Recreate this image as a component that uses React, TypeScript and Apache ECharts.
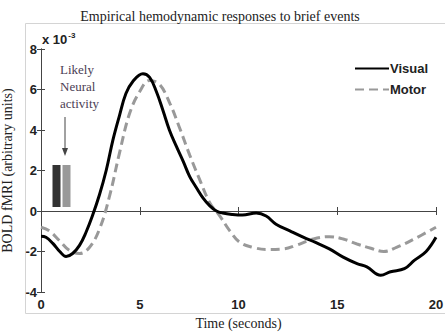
import React, { useEffect, useRef } from "react";
import * as echarts from "echarts";

// Values in units of 10^-3
const visualTime = [0, 0.25, 0.6, 0.95, 1.27, 1.6, 1.95, 2.28, 2.6, 2.96, 3.3, 3.64, 3.97, 4.3, 4.65, 5.16, 5.5, 5.84, 6.18, 6.5, 6.85, 7.2, 7.53, 7.87, 8.2, 8.55, 8.88, 9.2, 9.7, 10.2, 10.9, 11.4, 11.9, 12.6, 13.3, 13.9, 14.6, 15.3, 16.0, 16.5, 17.2, 17.7, 18.4, 18.9, 19.5, 20];
const visualValues = [-1.25, -1.3, -1.6, -2.0, -2.25, -2.1, -1.7, -1.05, -0.25, 0.8, 2.0, 3.5, 4.7, 5.8, 6.4, 6.78, 6.6, 5.9, 4.95, 4.0, 3.2, 2.45, 1.7, 1.15, 0.65, 0.25, 0.0, -0.1, -0.17, -0.2, -0.1, -0.25, -0.65, -0.98, -1.3, -1.55, -1.87, -2.28, -2.6, -2.76, -3.17, -3.0, -2.85, -2.44, -2.0, -1.3];

const motorTime = [0, 0.42, 0.93, 1.44, 1.95, 2.45, 2.96, 3.47, 3.97, 4.48, 5.0, 5.5, 6.0, 6.5, 7.0, 7.53, 8.04, 8.55, 9.05, 9.56, 10.07, 10.75, 11.4, 12.3, 12.9, 13.8, 14.6, 15.3, 16.0, 16.7, 17.35, 18.0, 18.9, 20];
const motorValues = [-0.8, -0.98, -1.46, -1.95, -2.1, -1.8, -0.9, 0.73, 2.85, 4.8, 5.9, 6.45, 6.25, 5.37, 4.15, 2.76, 1.54, 0.4, -0.24, -0.98, -1.55, -1.8, -1.9, -1.87, -1.7, -1.38, -1.27, -1.38, -1.63, -1.84, -2.0, -1.8, -1.38, -0.8];

const seriesNames = ["Visual", "Motor"];
const xTicks = [0, 5, 10, 15, 20];
const yTicks = [-4, -2, 0, 2, 4, 6, 8];
const annotationLines = ["Likely", "Neural", "activity"];

const narrow = "'Liberation Sans Narrow', 'Arial Narrow', 'Liberation Sans', sans-serif";
const serif = "'Liberation Serif', 'Times New Roman', serif";

export default function App() {
  const ref = useRef<HTMLDivElement>(null);
  useEffect(() => {
    if (!ref.current) return;
    const chart = echarts.init(ref.current, undefined, { renderer: "svg" });
    const axisLine = { show: true, lineStyle: { color: "#444", width: 1 } };
    const tick = { show: true, inside: true, length: 4, lineStyle: { color: "#444" } };
    const labelStyle = { fontFamily: narrow, fontWeight: "bold" as const, fontSize: 13, color: "#222" };
    chart.setOption({
      animation: false,
      backgroundColor: "#fff",
      title: {
        text: "Empirical hemodynamic responses to brief events",
        left: 215,
        top: 4,
        textAlign: "center",
        textStyle: { fontFamily: serif, fontWeight: "normal", fontSize: 14, color: "#222" },
      },
      legend: {
        left: 349,
        top: 57,
        orient: "vertical",
        itemWidth: 34,
        itemHeight: 10,
        itemGap: 8,
        data: seriesNames,
        itemStyle: { opacity: 0 },
        textStyle: { fontFamily: narrow, fontWeight: "bold", fontSize: 13, color: "#222", padding: [0, 0, 0, -4] },
      },
      grid: { left: 41, right: 9, top: 49, bottom: 41, containLabel: false, outerBoundsMode: "none" },
      xAxis: [
        {
          type: "value",
          min: 0,
          max: 20,
          interval: 5,
          name: "Time (seconds)",
          nameLocation: "middle",
          nameGap: 24,
          nameTextStyle: { fontFamily: serif, fontSize: 14, color: "#222" },
          axisLine,
          axisTick: tick,
          splitLine: { show: false },
          axisLabel: { ...labelStyle, margin: 6, customValues: xTicks },
        },
        {
          type: "value",
          position: "top",
          min: 0,
          max: 20,
          interval: 5,
          axisLine,
          axisTick: tick,
          splitLine: { show: false },
          axisLabel: { show: false },
        },
      ],
      yAxis: [
        {
          type: "value",
          min: -4,
          max: 8,
          interval: 2,
          name: "BOLD fMRI (arbitrary units)",
          nameLocation: "middle",
          nameGap: 26,
          nameTextStyle: { fontFamily: serif, fontSize: 14, color: "#222" },
          axisLine,
          axisTick: tick,
          splitLine: { show: false },
          axisLabel: { ...labelStyle, margin: 4, customValues: yTicks },
        },
        {
          type: "value",
          position: "right",
          min: -4,
          max: 8,
          interval: 2,
          axisLine,
          axisTick: tick,
          splitLine: { show: false },
          axisLabel: { show: false },
        },
      ],
      graphic: [
        {
          type: "rect",
          shape: { x: 25.5, y: 23.5, width: 425, height: 290 },
          style: { fill: "none", stroke: "#d4d4d4", lineWidth: 1 },
          silent: true,
          z: -1,
        },
        {
          type: "text",
          x: 42,
          y: 31,
          style: {
            text: "{a|x 10}{b|-3}",
            rich: {
              a: { fontFamily: narrow, fontWeight: "bold", fontSize: 13, fill: "#222" },
              b: { fontFamily: narrow, fontWeight: "bold", fontSize: 8, fill: "#222", verticalAlign: "top", padding: [0, 0, 8, 1] },
            },
          },
        },
        {
          type: "text",
          x: 60,
          y: 61,
          style: {
            text: annotationLines.join("\n"),
            fontFamily: serif,
            fontSize: 13,
            lineHeight: 17,
            fill: "#4b4055",
          },
        },
        {
          type: "line",
          shape: { x1: 65, y1: 117, x2: 65, y2: 153 },
          style: { stroke: "#444", lineWidth: 1 },
        },
        {
          type: "polygon",
          shape: { points: [[62, 148], [68, 148], [65, 156]] },
          style: { fill: "#444" },
        },
        {
          type: "rect",
          shape: { x: 52.5, y: 165, width: 8, height: 42 },
          style: { fill: "#333" },
        },
        {
          type: "rect",
          shape: { x: 62.5, y: 165, width: 8, height: 42 },
          style: { fill: "#999" },
        },
      ],
      series: [
        {
          name: seriesNames[0],
          type: "line",
          smooth: 0.4,
          symbol: "none",
          data: visualTime.map((t, i) => [t, visualValues[i]]),
          lineStyle: { color: "#000", width: 3 },
          itemStyle: { color: "#000" },
          z: 3,
        },
        {
          name: seriesNames[1],
          type: "line",
          smooth: 0.4,
          symbol: "none",
          data: motorTime.map((t, i) => [t, motorValues[i]]),
          lineStyle: { color: "#999", width: 3, type: [9, 5] },
          itemStyle: { color: "#999" },
          z: 2,
        },
      ],
    });
    return () => chart.dispose();
  }, []);
  return <div ref={ref} style={{ width: 445, height: 333, position: "absolute", left: 0, top: 0 }} />;
}
